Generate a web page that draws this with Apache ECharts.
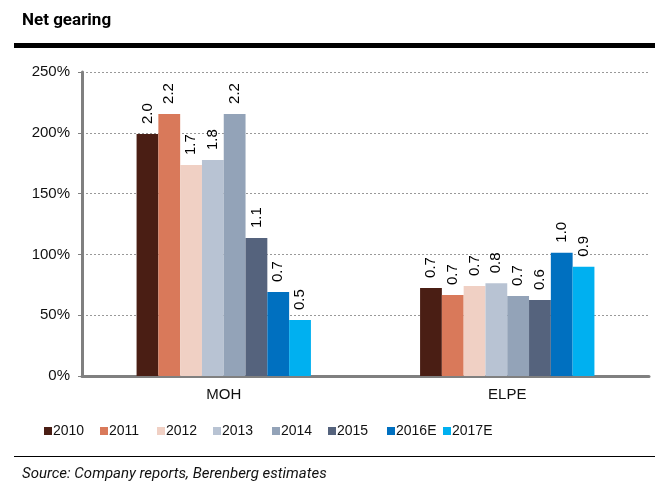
<!DOCTYPE html>
<html><head><meta charset="utf-8">
<script src="https://cdn.jsdelivr.net/npm/echarts@6/dist/echarts.min.js"></script>
<style>html,body{margin:0;padding:0;background:#fff}#c{width:660px;height:498px}</style>
</head><body><div id="c"></div>
<script>
const categories = ['MOH', 'ELPE'];
const seriesNames = ['2010', '2011', '2012', '2013', '2014', '2015', '2016E', '2017E'];
const values = {
  '2010':  [199, 72.4],
  '2011':  [215.5, 66.6],
  '2012':  [173.5, 74],
  '2013':  [177.6, 76.2],
  '2014':  [215.5, 65.8],
  '2015':  [113.5, 62.5],
  '2016E': [69, 101.4],
  '2017E': [46, 89.9]
};
const colors = ['#4a1e14', '#d9795a', '#f0d0c4', '#b8c3d3', '#93a3b8', '#55637d', '#0070c0', '#00b0f0'];
const yTicks = [0, 50, 100, 150, 200, 250];

const chart = echarts.init(document.getElementById('c'));
const font = '"Liberation Sans", Arial, sans-serif';
const legendLeft = [44, 100, 157, 213, 272, 328, 387, 443];
chart.setOption({
  animation: false,
  textStyle: { fontFamily: font },
  title: {
    text: 'Net gearing', left: 22, top: 12, padding: 0,
    textStyle: { fontFamily: 'Roboto, "Liberation Sans", sans-serif', fontWeight: 'bold', fontSize: 17, color: '#000' }
  },
  graphic: [
    { type: 'rect', shape: { x: 14, y: 43, width: 641, height: 5 }, style: { fill: '#000' } },
    { type: 'rect', shape: { x: 14, y: 456, width: 641, height: 1 }, style: { fill: '#000' } },
    { type: 'text', left: 22, top: 467, style: { text: 'Source: Company reports, Berenberg estimates', font: 'italic 15px Roboto, "Liberation Sans", sans-serif', fill: '#111' } }
  ],
  legend: seriesNames.map((n, i) => ({
    data: [n], left: legendLeft[i], top: 424, padding: 0, itemWidth: 8, itemHeight: 8,
    icon: 'rect', textStyle: { fontFamily: font, fontSize: 14, color: '#111', padding: [0, 0, 0, -4] }
  })),
  grid: { left: 82, right: 11, top: 72, bottom: 122, containLabel: false },
  xAxis: {
    type: 'category', data: categories,
    axisLine: { lineStyle: { color: '#808080', width: 3 } },
    axisTick: { show: false },
    axisLabel: { fontFamily: font, fontSize: 15, color: '#111', margin: 11 }
  },
  yAxis: {
    type: 'value', min: 0, max: 250, interval: 50,
    axisLine: { show: true, lineStyle: { color: '#808080', width: 3 } },
    axisTick: { show: true, length: 4, lineStyle: { color: '#808080' } },
    axisLabel: { fontFamily: font, fontSize: 15, color: '#111', margin: 12, formatter: v => yTicks.includes(v) ? v + '%' : '' },
    splitLine: { lineStyle: { color: '#999', type: [2, 2], width: 1 } }
  },
  series: seriesNames.map((n, i) => ({
    name: n, type: 'bar', data: values[n], barGap: '0%', barCategoryGap: '38.5%',
    itemStyle: { color: colors[i] },
    label: {
      show: true, position: 'top', rotate: 90, align: 'left', verticalAlign: 'middle', distance: 10,
      fontFamily: font, fontSize: 15, color: '#000', formatter: p => (p.value / 100).toFixed(1)
    }
  }))
});
</script></body></html>
